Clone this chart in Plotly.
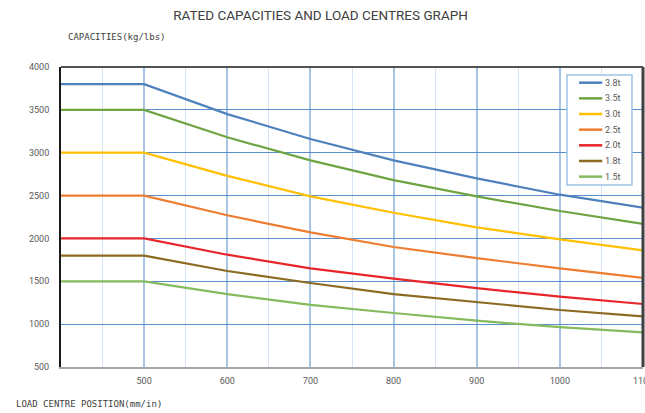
import plotly.graph_objects as go

positions = [400, 500, 600, 700, 800, 900, 1000, 1100]
series_names = ["3.8t", "3.5t", "3.0t", "2.5t", "2.0t", "1.8t", "1.5t"]
cap_38 = [3800, 3800, 3450, 3160, 2910, 2700, 2510, 2360]
cap_35 = [3500, 3500, 3180, 2910, 2680, 2490, 2320, 2170]
cap_30 = [3000, 3000, 2730, 2490, 2300, 2130, 1990, 1860]
cap_25 = [2500, 2500, 2270, 2070, 1900, 1770, 1650, 1540]
cap_20 = [2000, 2000, 1810, 1650, 1530, 1420, 1320, 1235]
cap_18 = [1800, 1800, 1620, 1480, 1350, 1255, 1165, 1090]
cap_15 = [1500, 1500, 1350, 1225, 1130, 1040, 965, 905]
series_values = [cap_38, cap_35, cap_30, cap_25, cap_20, cap_18, cap_15]
colors = ["#4F81BD", "#6FA443", "#FFC000", "#ED7D31", "#E8262A", "#8C6A23", "#86BA5E"]

x_ticks = [500, 600, 700, 800, 900, 1000, 1100]
y_ticks = [500, 1000, 1500, 2000, 2500, 3000, 3500, 4000]

fig = go.Figure()
for name, vals, col in zip(series_names, series_values, colors):
    fig.add_trace(go.Scatter(x=positions, y=vals, mode="lines", name=name,
                             line=dict(color=col, width=2.2)))

# compact legend box (paper coordinates), built from the series names/colours
leg_x0, leg_x1, leg_top, leg_bot = 0.8694, 0.981, 0.9733, 0.6067
item_top, item_step = 0.9477, 0.0522
line_x0, line_x1, label_x = 0.8900, 0.9300, 0.9310
shapes = [
    dict(type="rect", xref="paper", yref="paper", x0=leg_x0, x1=leg_x1, y0=leg_bot, y1=leg_top,
         fillcolor="white", line=dict(color="#9DC3E6", width=1.5), layer="above"),
]
annotations = []
for i, (name, col) in enumerate(zip(series_names, colors)):
    yy = item_top - i * item_step
    shapes.append(dict(type="line", xref="paper", yref="paper", x0=line_x0, x1=line_x1,
                       y0=yy, y1=yy, line=dict(color=col, width=2.5), layer="above"))
    annotations.append(dict(text=name, xref="paper", yref="paper", x=label_x, y=yy,
                            xanchor="left", yanchor="middle", showarrow=False,
                            font=dict(family="Roboto", size=9, color="#595959")))

shapes += [
    dict(type="line", xref="paper", yref="paper", x0=0, x1=1, y0=1, y1=1,
         line=dict(color="#1A1A1A", width=1.5)),
    dict(type="line", xref="paper", yref="paper", x0=1, x1=1, y0=0, y1=1,
         line=dict(color="#404040", width=3)),
]

mono = "DejaVu Sans Mono"
annotations += [
    dict(text="CAPACITIES(kg/lbs)", xref="paper", yref="paper", x=0.008, y=1.1,
         xanchor="left", yanchor="middle", showarrow=False,
         font=dict(family=mono, size=9, color="#404040")),
    dict(text="LOAD CENTRE POSITION(mm/in)", xref="paper", yref="paper", x=-0.08, y=-0.123,
         xanchor="left", yanchor="middle", showarrow=False,
         font=dict(family=mono, size=9, color="#404040")),
]

fig.update_layout(
    width=645, height=413,
    margin=dict(l=61, r=2, t=67, b=46, autoexpand=False),
    paper_bgcolor="white", plot_bgcolor="white",
    title=dict(text="RATED CAPACITIES AND LOAD CENTRES GRAPH", x=0.497, xanchor="center",
               y=0.962, yanchor="middle", automargin=False,
               font=dict(family="Roboto", size=13.5, color="#404040")),
    showlegend=False,
    xaxis=dict(range=[400, 1100], tickvals=x_ticks, ticktext=[str(v) for v in x_ticks],
               showgrid=True, gridcolor="#A8C5E6", gridwidth=2, automargin=False,
               ticklabeloverflow="allow", ticklabelstandoff=4,
               minor=dict(dtick=50, tick0=400, showgrid=True, gridcolor="#D5E3F3", gridwidth=1),
               showline=True, linecolor="#A6A6A6", linewidth=2,
               ticks="", zeroline=False,
               tickfont=dict(family="Roboto", size=9, color="#595959")),
    yaxis=dict(range=[500, 4000], tickvals=y_ticks, automargin=False,
               showgrid=True, gridcolor="#5B8FCB", gridwidth=1,
               showline=True, linecolor="#1A1A1A", linewidth=2,
               ticks="", zeroline=False, ticklabelstandoff=8,
               tickfont=dict(family="Roboto", size=9, color="#595959")),
    shapes=shapes,
    annotations=annotations,
)

fig.write_html("out.html", config={"displayModeBar": False},
               post_script="document.body.style.margin='0';document.body.style.overflow='hidden';")
